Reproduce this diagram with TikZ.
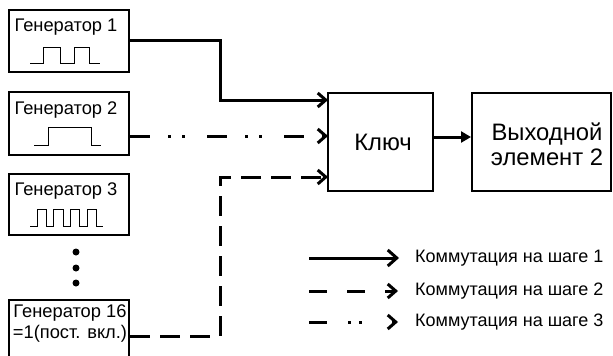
\documentclass[tikz,border=0pt]{standalone}
\usepackage{fontspec}
\setmainfont{Liberation Sans}
\usetikzlibrary{arrows.meta}
\tikzset{
  box/.style={draw=black, line width=2.5pt, rectangle, inner sep=0pt},
  glabel/.style={font=\fontsize{18.3}{21}\selectfont, inner sep=0pt},
  big/.style={font=\fontsize{23.8}{25}\selectfont, align=center, inner sep=0pt},
  legtext/.style={font=\fontsize{18}{20}\selectfont, inner sep=0pt, anchor=west},
  wave/.style={line width=1pt, line join=miter},
  conn/.style={line width=3pt},
  inarrow/.style={-{Straight Barb[length=8pt,width=14pt]}},
  pat2/.style={dash pattern=on 20pt off 18pt on 3pt off 11pt on 3pt off 22pt},
  pat3/.style={dash pattern=on 20pt off 10pt},
}
\begin{document}
\begin{tikzpicture}[x=1pt,y=-1pt]
\useasboundingbox[fill=white] (0,0) rectangle (613,356);
\begin{scope}
\clip (0,0) rectangle (613,356);
% generator boxes
\node[box, minimum width=120pt, minimum height=62pt] (g1) at (69,41) {};
\node[box, minimum width=120pt, minimum height=63pt] (g2) at (69,123.5) {};
\node[box, minimum width=120pt, minimum height=61pt] (g3) at (69,204.5) {};
\node[box, minimum width=120pt, minimum height=64pt] (g16) at (69,332) {};
\end{scope}
% labels
\node[glabel] (t1) at (66,27) {Генератор 1};
\node[glabel] (t2) at (66,110) {Генератор 2};
\node[glabel] (t3) at (66,191) {Генератор 3};
\node[glabel] (t16a) at (70,313) {Генератор 16};
\node[glabel] (t16b) at (70,334) {=1(пост. вкл.)};
% waveforms
\draw[wave] (30,63) -- (43,63) -- (43,47) -- (60,47) -- (60,63) -- (74,63) -- (74,47) -- (89,47) -- (89,63) -- (100,63);
\draw[wave] (34,145) -- (48,145) -- (48,127) -- (91,127) -- (91,145) -- (101,145);
\draw[wave] (30,226) -- (37,226) -- (37,209) -- (46,209) -- (46,226) -- (53,226) -- (53,209) -- (63,209) -- (63,226) -- (70,226) -- (70,209) -- (79,209) -- (79,226) -- (87,226) -- (87,209) -- (96,209) -- (96,226) -- (103,226);
% dots
\fill (76,252) circle (3.5pt);
\fill (76,268) circle (3.5pt);
\fill (76,283) circle (3.5pt);
% key and output
\node[box, minimum width=105pt, minimum height=98pt] (key) at (380.5,142) {};
\node[big] (keyt) at (383,142) {Ключ};
\node[box, minimum width=139pt, minimum height=98pt] (out) at (541.5,142) {};
\node[big] (outt) at (547,144) {Выходной\\элемент 2};
% input coordinates
\coordinate (y40) at (0,40);
\coordinate (y336) at (0,336);
\coordinate (in1) at (328,100);
\coordinate (in2) at (328,136);
\coordinate (in3) at (328,177);
\coordinate (o1) at (433,137);
\coordinate (o2) at (471,137);
% connectors
\draw[conn, inarrow] (g1.east |- y40) -- (220,40) -- (220,100) -- (in1);
\draw[conn, inarrow, pat2] (g2.east |- in2) -- (in2);
\draw[conn, inarrow, pat3] (g16.east |- y336) -- (220,336) -- (220,177) -- (in3);
\draw[conn, -{Triangle[length=10pt,width=11pt]}] (o1) -- (o2);
% legend
\coordinate (l1s) at (309,258);
\coordinate (l1e) at (399,258);
\coordinate (l2s) at (309,291);
\coordinate (l2e) at (398,291);
\coordinate (l3s) at (309,322);
\coordinate (l3e) at (398,322);
\draw[conn, -{Straight Barb[length=9pt,width=16pt]}] (l1s) -- (l1e);
\draw[conn, -{Straight Barb[length=8pt,width=14pt]}, dash pattern=on 18pt off 20pt] (l2s) -- (l2e);
\draw[conn, -{Straight Barb[length=8pt,width=14pt]}, dash pattern=on 18pt off 21pt on 3pt off 8pt on 3pt off 30pt] (l3s) -- (l3e);
\node[legtext] (lt1) at (415,258) {Коммутация на шаге 1};
\node[legtext] (lt2) at (415,291) {Коммутация на шаге 2};
\node[legtext] (lt3) at (415,322) {Коммутация на шаге 3};
\end{tikzpicture}
\end{document}
